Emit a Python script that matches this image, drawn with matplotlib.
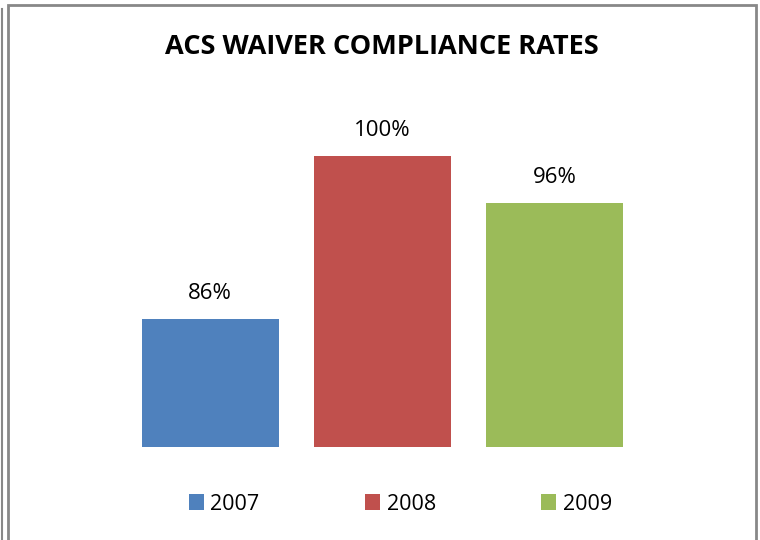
import matplotlib.pyplot as plt
from matplotlib.patches import Rectangle, Patch

years = ["2007", "2008", "2009"]
rates = [86, 100, 96]
colors = ["#4F81BD", "#C0504D", "#9BBB59"]

plt.rcParams['font.family'] = ['Open Sans', 'DejaVu Sans']

fig = plt.figure(figsize=(7.6, 5.4), dpi=100)
ax = fig.add_axes([0.1632, 0.1722, 0.680, 0.6463])

x = range(len(years))
bars = ax.bar(x, rates, width=0.794, color=colors, bottom=0)
for xi, v in zip(x, rates):
    ax.text(xi, v + 1.3, f"{v}%", ha="center", va="bottom", fontsize=16, color="black")

ax.set_xlim(-0.5, 2.5)
ax.set_ylim(75, 105)
ax.axis("off")

fig.text(0.502, 1 - 47 / 540, "ACS WAIVER COMPLIANCE RATES", ha="center", va="center",
         fontsize=19.5, fontweight="bold")

handles = [Patch(facecolor=c, edgecolor="none") for c in colors]
fig.legend(handles, years, loc="center", bbox_to_anchor=(0.527, 1 - 504 / 540), ncol=3,
           frameon=False, fontsize=15.5, handlelength=0.7, handleheight=0.7,
           handletextpad=0.3, columnspacing=4.9)

# chart border lines
border = "#888888"
fig.add_artist(Rectangle((7.5 / 760, -0.05), 748 / 760, 1.05 - 5.5 / 540,
                         transform=fig.transFigure, fill=False, edgecolor=border, linewidth=2))
fig.add_artist(plt.Line2D([1.5 / 760, 1.5 / 760], [0, 1 - 9 / 540], transform=fig.transFigure,
                          color=border, linewidth=1.5))

fig.savefig("out.png", dpi=100)
